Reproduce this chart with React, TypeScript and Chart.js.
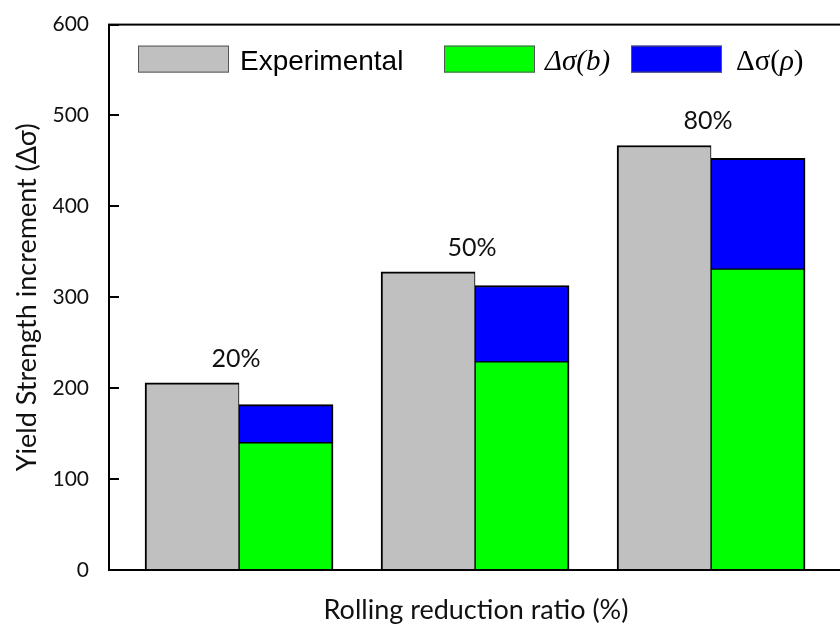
import React, { useEffect, useRef } from 'react';
import { Chart, registerables } from 'chart.js';

Chart.register(...registerables);

// Rolling reductions (group labels) and their positions on the x scale
const reductionLabels = ['20%', '50%', '80%'];
const groupPositions = [1, 2, 3];

// Yield strength increments (MPa)
const experimental = [206, 328, 467];
const deltaSigmaB = [140, 229, 331];
const deltaSigmaRho = [42, 84, 122];

const yTicks = [0, 100, 200, 300, 400, 500, 600];
const seriesNames = ['Experimental', 'Δσ(b)', 'Δσ(ρ)'];

const AXIS_FONT = 'Lato';
const SERIF = '"Liberation Serif", "DejaVu Serif", serif';
const SANS = '"Liberation Sans", Arial, sans-serif';

type Run = { text: string; font: string };

// Legend entries are typeset with math-style italics for the symbols
function legendRuns(label: string): Run[] {
  if (label === 'Δσ(b)') return [{ text: label, font: `italic 29px ${SERIF}` }];
  if (label === 'Δσ(ρ)')
    return [
      { text: 'Δσ(', font: `29px ${SERIF}` },
      { text: 'ρ', font: `italic 29px ${SERIF}` },
      { text: ')', font: `29px ${SERIF}` },
    ];
  return [{ text: label, font: `28px ${SANS}` }];
}

const framePlugin = {
  id: 'frameAndLabels',
  afterDatasetsDraw(chart: any) {
    const { ctx, chartArea, scales } = chart;
    const { left, top, right, bottom } = chartArea;
    const y = scales.y;
    const x = scales.x;
    ctx.save();
    ctx.strokeStyle = '#000';
    ctx.lineWidth = 2;
    ctx.strokeRect(left, top, right - left, bottom - top);
    // inward tick marks on the value axis
    ctx.beginPath();
    for (const v of yTicks) {
      const py = Math.round(y.getPixelForValue(v));
      ctx.moveTo(left, py);
      ctx.lineTo(left + 10, py);
    }
    ctx.stroke();

    // reduction ratio above each group
    ctx.fillStyle = '#111';
    ctx.font = `25px ${AXIS_FONT}`;
    ctx.textAlign = 'center';
    ctx.textBaseline = 'alphabetic';
    reductionLabels.forEach((lbl, i) => {
      const px = x.getPixelForValue(groupPositions[i]) - 3;
      const py = y.getPixelForValue(experimental[i]) - 16;
      ctx.fillText(lbl, px, py);
    });
    ctx.restore();
  },
  afterDraw(chart: any) {
    const { ctx, chartArea } = chart;
    const slots = [29, 335, 522];
    const textGap = [11, 10, 14];
    const boxW = 91;
    const boxH = 27;
    const boxTop = chartArea.top + 21;
    ctx.save();
    chart.data.datasets.forEach((ds: any, i: number) => {
      const bx = chartArea.left + slots[i];
      ctx.fillStyle = ds.backgroundColor;
      ctx.fillRect(bx, boxTop, boxW, boxH);
      ctx.strokeStyle = '#555';
      ctx.lineWidth = 1;
      ctx.strokeRect(bx + 0.5, boxTop + 0.5, boxW - 1, boxH - 1);
      let tx = bx + boxW + textGap[i];
      const baseline = boxTop + 24;
      ctx.fillStyle = '#000';
      ctx.textAlign = 'left';
      ctx.textBaseline = 'alphabetic';
      for (const run of legendRuns(ds.label)) {
        ctx.font = run.font;
        ctx.fillText(run.text, tx, baseline);
        tx += ctx.measureText(run.text).width;
      }
    });
    ctx.restore();
  },
};

export default function App() {
  const canvasRef = useRef<HTMLCanvasElement | null>(null);

  useEffect(() => {
    if (!canvasRef.current) return;
    const toPoints = (vals: number[]) => vals.map((v, i) => ({ x: groupPositions[i], y: v }));
    const chart = new Chart(canvasRef.current, {
      type: 'bar',
      data: {
        datasets: [
          {
            label: seriesNames[0],
            data: toPoints(experimental),
            stack: 'measured',
            backgroundColor: '#c0c0c0',
            borderColor: '#000',
            borderWidth: { left: 2, top: 2, right: 1, bottom: 0 },
            borderSkipped: false,
            barThickness: 94,
          },
          {
            label: seriesNames[1],
            data: toPoints(deltaSigmaB),
            stack: 'model',
            backgroundColor: '#00ff00',
            borderColor: '#000',
            borderWidth: { left: 1, top: 1, right: 2, bottom: 0 },
            borderSkipped: false,
            barThickness: 94,
          },
          {
            label: seriesNames[2],
            data: toPoints(deltaSigmaRho),
            stack: 'model',
            backgroundColor: '#0000ff',
            borderColor: '#000',
            borderWidth: { left: 1, top: 2, right: 2, bottom: 1 },
            borderSkipped: false,
            barThickness: 94,
          },
        ],
      },
      options: {
        responsive: false,
        animation: false,
        devicePixelRatio: 1,
        layout: { padding: { top: 21, right: 9, left: 0, bottom: 0 } },
        plugins: {
          legend: { display: false },
          tooltip: { enabled: false },
        },
        scales: {
          x: {
            type: 'linear',
            offset: false,
            min: 0.449,
            max: 3.559,
            ticks: { display: false, stepSize: 1, includeBounds: false },
            grid: { display: false, offset: false },
            border: { display: false },
            title: {
              display: true,
              text: 'Rolling reduction ratio (%)',
              font: { family: AXIS_FONT, size: 27 },
              color: '#111',
              padding: { top: 0, bottom: 1 },
            },
            afterFit(scale: any) {
              scale.height = 57;
            },
          },
          y: {
            stacked: true,
            min: 0,
            max: 600,
            ticks: {
              stepSize: 100,
              padding: 12,
              color: '#111',
              font: { family: AXIS_FONT, size: 21 },
            },
            grid: { display: false },
            border: { display: false },
            title: {
              display: true,
              text: 'Yield Strength increment (Δσ)',
              font: { family: AXIS_FONT, size: 27 },
              color: '#111',
              padding: { top: 11, bottom: 0 },
            },
            afterFit(scale: any) {
              scale.width = 109;
            },
          },
        },
      },
      plugins: [framePlugin],
    } as any);
    return () => chart.destroy();
  }, []);

  return (
    <div
      style={{
        position: 'fixed',
        left: 0,
        top: 0,
        width: 840,
        height: 627,
        overflow: 'hidden',
        background: '#fff',
      }}
    >
      <canvas ref={canvasRef} width={852} height={627} style={{ width: 852, height: 627, display: 'block' }} />
    </div>
  );
}
